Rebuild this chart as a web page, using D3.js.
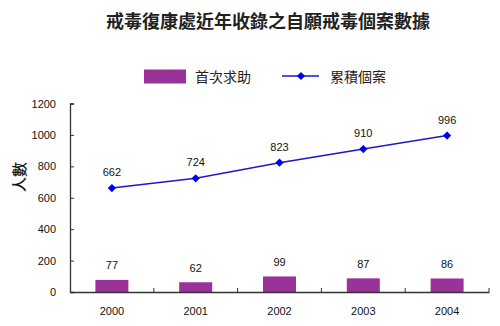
<!DOCTYPE html>
<html><head><meta charset="utf-8">
<script src="https://cdn.jsdelivr.net/npm/d3@7"></script>
<style>body{margin:0;background:#fff}svg{display:block}</style>
</head><body><svg id="c" width="500" height="326"></svg>
<script>
const years = ["2000","2001","2002","2003","2004"];
const firstHelp = [77, 62, 99, 87, 86];
const cumulative = [662, 724, 823, 910, 996];
const yTicks = [0, 200, 400, 600, 800, 1000, 1200];
const title = "戒毒復康處近年收錄之自願戒毒個案數據";
const seriesNames = ["首次求助", "累積個案"];
const yLabel = "人數";

const svg = d3.select("#c");
const m = {l:70, r:11, t:103.5, b:34};
const W = 500, H = 326;
const x = d3.scaleBand().domain(years).range([m.l, W - m.r]).paddingInner(0).paddingOuter(0);
const y = d3.scaleLinear().domain([0, 1200]).range([H - m.b, m.t]);
const cjk = "'Noto Sans CJK TC','Noto Sans CJK SC',sans-serif";
const num = "'Liberation Sans',Arial,sans-serif";
const diamond = d3.symbol(d3.symbolSquare, 34)();

svg.append("text").attr("x", 268).attr("y", 28).attr("text-anchor","middle")
  .attr("font-family", cjk).attr("font-size", 18).attr("font-weight", 700).attr("fill","#222")
  .text(title);

// legend
const lg = svg.append("g");
lg.append("rect").attr("x",144).attr("y",69.5).attr("width",42).attr("height",14).attr("fill","#993399");
lg.append("text").attr("x",195).attr("y",82).attr("font-family",cjk).attr("font-size",14).attr("fill","#222").text(seriesNames[0]);
lg.append("line").attr("x1",282).attr("x2",319).attr("y1",76).attr("y2",76).attr("stroke","#1a1acc").attr("stroke-width",1.5);
lg.append("path").attr("d", diamond).attr("transform","translate(301,76) rotate(45)").attr("fill","#0000ee");
lg.append("text").attr("x",330).attr("y",82).attr("font-family",cjk).attr("font-size",14).attr("fill","#222").text(seriesNames[1]);

// bars
const bw = 33;
svg.selectAll("rect.bar").data(firstHelp).join("rect").attr("class","bar")
  .attr("x",(d,i)=>x(years[i]) + x.bandwidth()/2 - bw/2)
  .attr("y",d=>y(d)).attr("width",bw).attr("height",d=>y(0)-y(d))
  .attr("fill","#993399");

// axes
const yAxis = d3.axisLeft(y).tickValues(yTicks).tickSize(-4).tickPadding(14).tickFormat(d3.format("d"));
const ya = svg.append("g").attr("transform",`translate(${m.l},0)`).call(yAxis);
ya.select(".domain").attr("stroke","#333").attr("stroke-width",1.3);
ya.selectAll(".tick line").attr("stroke","#333");
ya.selectAll("text").attr("font-family",num).attr("font-size",11).attr("fill","#111");

const xa = svg.append("g").attr("transform",`translate(0,${y(0)})`)
  .call(d3.axisBottom(x).tickSize(0).tickPadding(15));
xa.select(".domain").attr("stroke","#333").attr("stroke-width",1.3);
xa.selectAll("text").attr("font-family",num).attr("font-size",11).attr("fill","#111");
// boundary ticks pointing up
const bounds = years.map(d=>x(d)+x.bandwidth());
svg.selectAll("line.bt").data(bounds).join("line").attr("class","bt")
  .attr("x1",d=>d).attr("x2",d=>d).attr("y1",y(0)).attr("y2",y(0)-4)
  .attr("stroke","#333").attr("stroke-width",1);

// line
const cx = (i)=> x(years[i]) + x.bandwidth()/2;
const line = d3.line().x((d,i)=>cx(i)).y(d=>y(d));
svg.append("path").datum(cumulative).attr("d",line).attr("fill","none").attr("stroke","#1a1acc").attr("stroke-width",1.5);
svg.selectAll("path.pt").data(cumulative).join("path").attr("class","pt")
  .attr("d", diamond)
  .attr("transform",(d,i)=>`translate(${cx(i)},${y(d)}) rotate(45)`).attr("fill","#0000ee");

// value labels
svg.selectAll("text.lv").data(cumulative).join("text").attr("class","lv")
  .attr("x",(d,i)=>cx(i)).attr("y",d=>y(d)-12).attr("text-anchor","middle")
  .attr("font-family",num).attr("font-size",11).attr("fill","#111").text(d=>d);
svg.selectAll("text.bv").data(firstHelp).join("text").attr("class","bv")
  .attr("x",(d,i)=>cx(i)).attr("y",d=>y(d)-10.5).attr("text-anchor","middle")
  .attr("font-family",num).attr("font-size",11).attr("fill","#111").text(d=>d);

// y label
svg.append("text").attr("transform","translate(25,177) rotate(-90)").attr("text-anchor","middle")
  .attr("font-family",cjk).attr("font-size",15).attr("font-weight",500).attr("fill","#111").text(yLabel);
</script></body></html>
